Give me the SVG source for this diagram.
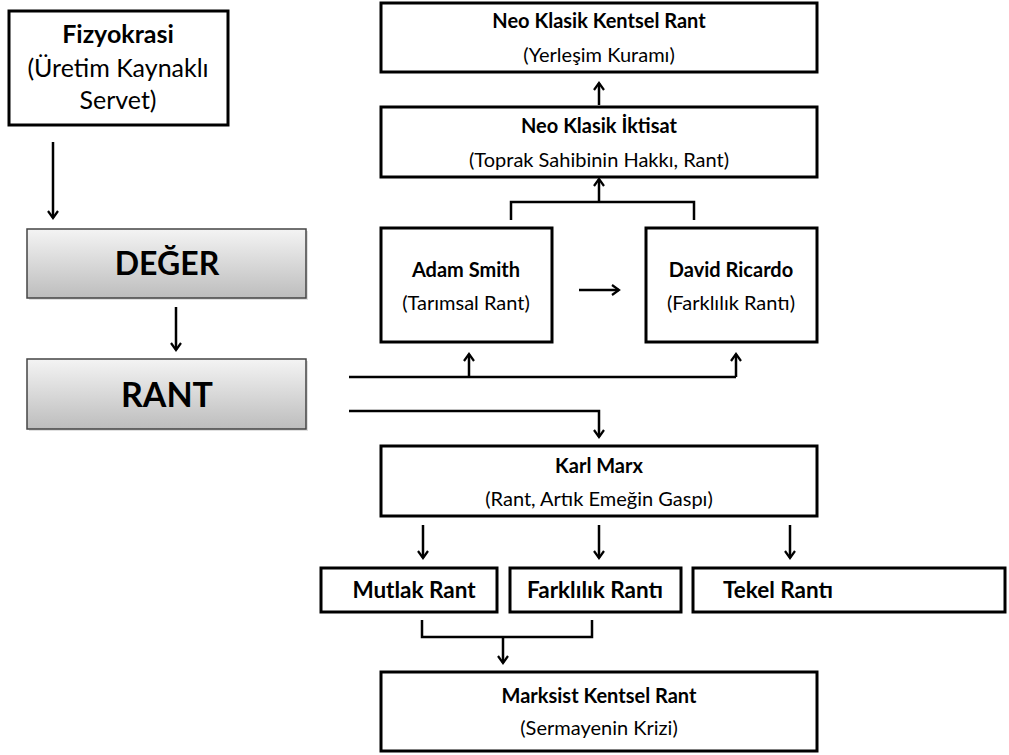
<svg xmlns="http://www.w3.org/2000/svg" width="1009" height="755" viewBox="0 0 1009 755">
<defs>
<linearGradient id="gray" x1="0" y1="0" x2="0" y2="1">
<stop offset="0" stop-color="#f4f4f4"/>
<stop offset="1" stop-color="#bdbdbd"/>
</linearGradient>
<marker id="ah" markerWidth="12" markerHeight="12" refX="10" refY="6" orient="auto" markerUnits="userSpaceOnUse">
<path d="M3,1 L10,6 L3,11" fill="none" stroke="#000" stroke-width="2.2"/>
</marker>
</defs>
<style>
.box{fill:#fff;stroke:#000;stroke-width:3}
.gbox{fill:url(#gray);stroke:#444;stroke-width:1.5}
.t{font-family:Lato,"Open Sans","Liberation Sans",sans-serif;fill:#000;text-anchor:middle}
.b{font-weight:bold}
.s20{font-size:20px}
.s22{font-size:22.5px}
.s25{font-size:25px}
.big{font-size:32px;font-weight:bold}
.c{fill:none;stroke:#000;stroke-width:2.5}
.a{marker-end:url(#ah)}
</style>
<rect width="1009" height="755" fill="#fff"/>
<g id="fizyokrasi">
<rect class="box" x="9" y="11" width="219" height="114"/>
<text class="t b s25" x="118" y="43">Fizyokrasi</text>
<text class="t s25" x="118" y="77">(Üretim Kaynaklı</text>
<text class="t s25" x="118" y="109">Servet)</text>
</g>
<g id="deger">
<rect x="29" y="231" width="279" height="69" fill="#000" opacity="0.12"/>
<rect class="gbox" x="27" y="229" width="279" height="69"/>
<text class="t big" x="167" y="275">DEĞER</text>
</g>
<g id="rant">
<rect x="29" y="361" width="279" height="70" fill="#000" opacity="0.12"/>
<rect class="gbox" x="27" y="359" width="279" height="70"/>
<text class="t big" x="167" y="407" style="font-size:34px">RANT</text>
</g>
<g id="neo-klasik-kentsel">
<rect class="box" x="381" y="3" width="436" height="69"/>
<text class="t b s20" x="599" y="28">Neo Klasik Kentsel Rant</text>
<text class="t s20" x="599" y="62">(Yerleşim Kuramı)</text>
</g>
<g id="neo-klasik-iktisat">
<rect class="box" x="381" y="107" width="436" height="70"/>
<text class="t b s20" x="599" y="133">Neo Klasik İktisat</text>
<text class="t s20" x="599" y="167">(Toprak Sahibinin Hakkı, Rant)</text>
</g>
<g id="adam-smith">
<rect class="box" x="381" y="228" width="171" height="114"/>
<text class="t b s20" x="466" y="277">Adam Smith</text>
<text class="t s20" x="466" y="310">(Tarımsal Rant)</text>
</g>
<g id="david-ricardo">
<rect class="box" x="646" y="228" width="171" height="114"/>
<text class="t b s20" x="731" y="277">David Ricardo</text>
<text class="t s20" x="731" y="310">(Farklılık Rantı)</text>
</g>
<g id="karl-marx">
<rect class="box" x="381" y="446" width="436" height="70"/>
<text class="t b s20" x="599" y="473">Karl Marx</text>
<text class="t s20" x="599" y="506">(Rant, Artık Emeğin Gaspı)</text>
</g>
<g id="mutlak-rant">
<rect class="box" x="321" y="568" width="176" height="44"/>
<text class="t b s22" x="414" y="598">Mutlak Rant</text>
</g>
<g id="farklilik-ranti">
<rect class="box" x="510" y="568" width="171" height="44"/>
<text class="t b s22" x="595" y="598">Farklılık Rantı</text>
</g>
<g id="tekel-ranti">
<rect class="box" x="693" y="568" width="312" height="44"/>
<text class="t b s22" x="778" y="598">Tekel Rantı</text>
</g>
<g id="marksist-kentsel">
<rect class="box" x="381" y="672" width="436" height="79"/>
<text class="t b s20" x="599" y="703">Marksist Kentsel Rant</text>
<text class="t s20" x="599" y="735">(Sermayenin Krizi)</text>
</g>
<g id="connectors">
<line class="c a" x1="53" y1="142" x2="53" y2="218"/>
<line class="c a" x1="176" y1="307" x2="176" y2="350"/>
<line class="c a" x1="599" y1="105" x2="599" y2="83"/>
<line class="c a" x1="599" y1="202" x2="599" y2="179"/>
<polyline class="c" points="511,220 511,202 694,202 694,220"/>
<line class="c a" x1="579" y1="290" x2="619" y2="290"/>
<line class="c" x1="349" y1="377" x2="736" y2="377"/>
<line class="c a" x1="469" y1="377" x2="469" y2="354"/>
<line class="c a" x1="736" y1="377" x2="736" y2="354"/>
<polyline class="c a" points="349,411 599,411 599,437"/>
<line class="c a" x1="423" y1="525" x2="423" y2="558"/>
<line class="c a" x1="599" y1="525" x2="599" y2="558"/>
<line class="c a" x1="790" y1="525" x2="790" y2="558"/>
<polyline class="c" points="422,620 422,637 592,637 592,620"/>
<line class="c a" x1="503" y1="637" x2="503" y2="663"/>
</g>
</svg>
